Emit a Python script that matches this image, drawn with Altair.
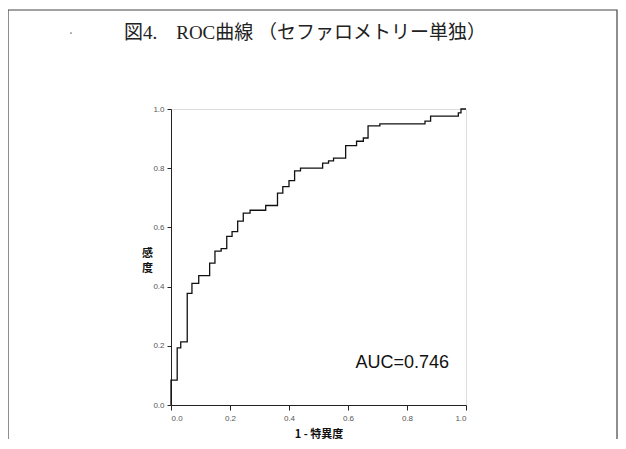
import altair as alt
import pandas as pd

# ROC curve vertices (1 - specificity, sensitivity), step-after
fpr = [0.0, 0.0, 0.021, 0.033, 0.055, 0.071, 0.094, 0.131, 0.149, 0.170, 0.189,
       0.207, 0.226, 0.245, 0.268, 0.321, 0.361, 0.379, 0.400, 0.419, 0.439,
       0.514, 0.534, 0.551, 0.592, 0.629, 0.652, 0.668, 0.708, 0.861, 0.880,
       0.974, 0.983, 1.0]
tpr = [0.0, 0.084, 0.193, 0.213, 0.377, 0.411, 0.437, 0.479, 0.520, 0.528, 0.570,
       0.586, 0.621, 0.648, 0.658, 0.674, 0.716, 0.738, 0.758, 0.791, 0.800,
       0.817, 0.825, 0.834, 0.876, 0.891, 0.902, 0.943, 0.950, 0.959, 0.976,
       0.987, 1.000, 1.0]
tick_values = [0.0, 0.2, 0.4, 0.6, 0.8, 1.0]
title_text = ["図4.　ROC曲線 （セファロメトリー単独）"]
auc_label = ["AUC=0.746"]
auc_x = [0.625]
auc_y = [0.125]

df = pd.DataFrame({"fpr": fpr, "tpr": tpr, "order": list(range(len(fpr)))})
auc_df = pd.DataFrame({"label": auc_label, "x": auc_x, "y": auc_y})
title_df = pd.DataFrame({"t": title_text})

W, H = 295, 296

xscale = alt.Scale(domain=[0, 1], nice=False, zero=False)
yscale = alt.Scale(domain=[0, 1], nice=False, zero=False)

frame = alt.Chart(pd.DataFrame({"a": [0]})).mark_rect(
    fill=None, stroke="#444", strokeWidth=1.2, clip=False
).encode(
    x=alt.value(-163), x2=alt.value(446),
    y=alt.value(-99), y2=alt.value(345),
)

curve = alt.Chart(df).mark_line(
    interpolate="step-after", color="#111", strokeWidth=1.3
).encode(
    x=alt.X("fpr:Q", scale=xscale,
            axis=alt.Axis(values=tick_values, format=".1f", title="1 - 特異度",
                          grid=False, domainColor="#222", tickColor="#222",
                          tickSize=5, labelFontSize=8, labelColor="#555",
                          labelFont="Liberation Sans", labelPadding=4,
                          titleFont="Noto Sans CJK JP", titleFontSize=11,
                          titleFontWeight="bold", titleColor="#111",
                          titlePadding=6)),
    y=alt.Y("tpr:Q", scale=yscale,
            axis=alt.Axis(values=tick_values, format=".1f", title=["感", "度"],
                          grid=False, domainColor="#222", tickColor="#222",
                          tickSize=4, labelFontSize=8, labelColor="#555",
                          labelFont="Liberation Sans", labelPadding=3,
                          titleFont="Noto Sans CJK JP", titleFontSize=11,
                          titleFontWeight="bold", titleColor="#111",
                          titleLineHeight=15,
                          titleAngle=0, titleAlign="center",
                          titleBaseline="top", titleX=-24, titleY=138)),
    order="order:Q",
)

auc = alt.Chart(auc_df).mark_text(
    align="left", baseline="alphabetic", fontSize=18,
    font="Liberation Sans", color="#111"
).encode(
    x=alt.X("x:Q", scale=xscale),
    y=alt.Y("y:Q", scale=yscale),
    text="label:N",
)

title = alt.Chart(title_df).mark_text(
    align="center", baseline="middle", fontSize=19,
    font="Liberation Serif, Noto Sans CJK JP", color="#222", clip=False
).encode(
    x=alt.value(134), y=alt.value(-76), text="t:N",
)

dot = alt.Chart(pd.DataFrame({"a": [0]})).mark_point(
    filled=True, size=3, color="#333", clip=False
).encode(x=alt.value(-100), y=alt.value(-76))

chart = alt.layer(frame, curve, auc, title, dot).properties(
    width=W, height=H,
    autosize=alt.AutoSizeParams(type="none"),
    padding={"left": 163, "top": 101, "right": 152, "bottom": 34},
).configure_view(
    stroke="#999", strokeWidth=1, strokeDash=[2, 1]
).configure(background="white")

chart.save("out.html", embed_options={"renderer": "svg", "actions": False})
